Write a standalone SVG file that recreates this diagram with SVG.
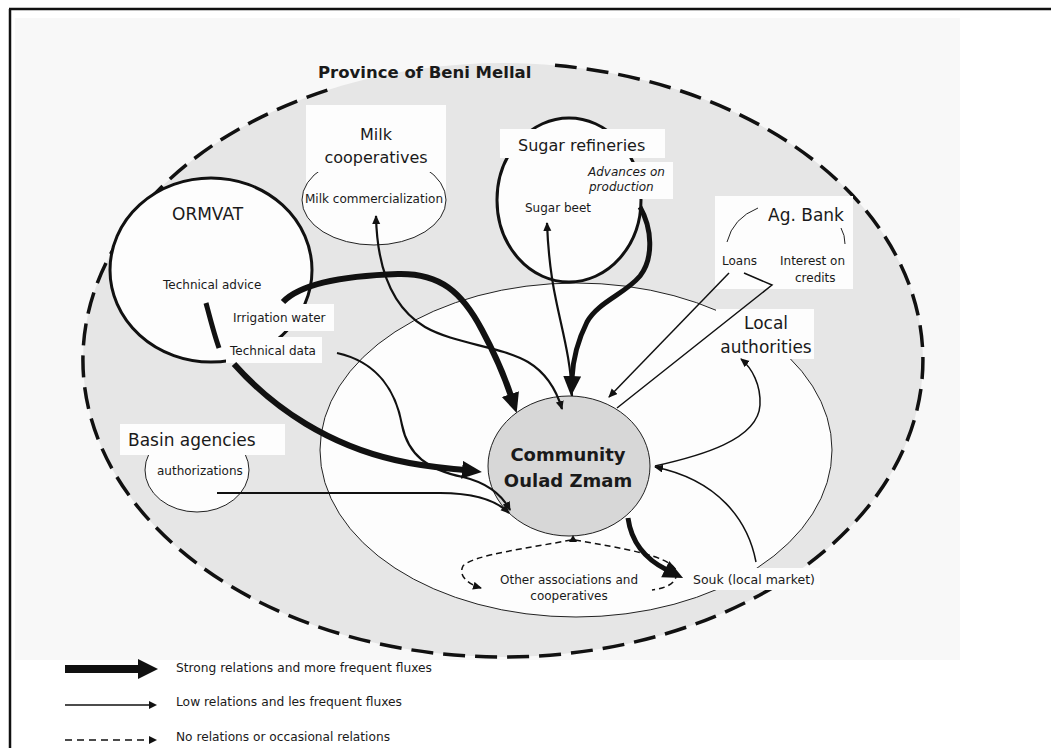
<svg xmlns="http://www.w3.org/2000/svg" width="1051" height="748" viewBox="0 0 1051 748">
  <style>
    text { font-family: "DejaVu Sans", "Liberation Sans", sans-serif; fill: #1a1a1a; }
    .big { font-size: 17px; }
    .mid { font-size: 16px; }
    .small { font-size: 12px; }
    .thin { fill: none; stroke: #111; stroke-width: 1.5; }
    .thin2 { fill: none; stroke: #111; stroke-width: 2.2; }
    .thick { fill: none; stroke: #111; stroke-width: 6; }
    .thick5 { fill: none; stroke: #111; stroke-width: 5; }
    .dash { fill: none; stroke: #111; stroke-width: 1.5; stroke-dasharray: 6 4; }
    .box { fill: #fdfdfd; stroke: none; }
    .ring { fill: #fdfdfd; stroke: #111; stroke-width: 3; }
    .oval { fill: #fdfdfd; stroke: #222; stroke-width: 1; }
  </style>
  <defs>
    <marker id="ah-big" markerUnits="userSpaceOnUse" markerWidth="22" markerHeight="20" refX="2" refY="9" orient="auto">
      <path d="M0,0 L20,9 L0,18 Z" fill="#111"/>
    </marker>
    <marker id="ah-small" markerUnits="userSpaceOnUse" markerWidth="10" markerHeight="9" refX="8" refY="4" orient="auto-start-reverse">
      <path d="M0,0 L9,4 L0,8 Z" fill="#111"/>
    </marker>
  </defs>

  <!-- page -->
  <rect x="0" y="0" width="1051" height="748" fill="#ffffff"/>
  <rect x="15" y="18" width="945" height="642" fill="#f8f8f8"/>
  <path d="M9,9 H1051 M10,9 V748" fill="none" stroke="#111" stroke-width="2.5"/>

  <!-- province boundary -->
  <g id="province">
    <ellipse cx="503" cy="360" rx="420" ry="297" fill="#e6e6e6"/>
    <path d="M555,65.3 A420,297 0 1 1 333,88.4" fill="none" stroke="#111" stroke-width="3.5" stroke-dasharray="22 10"/>
    <text x="318" y="78" style="font-size:16.5px;font-weight:bold">Province of Beni Mellal</text>
  </g>

  <!-- local area around the community -->
  <ellipse id="local-area" cx="576" cy="450" rx="256" ry="167" fill="#fdfdfd" stroke="#222" stroke-width="1"/>

  <!-- nodes -->
  <g id="ormvat">
    <ellipse class="ring" cx="211" cy="270" rx="101" ry="92"/>
    <rect class="box" x="228" y="304" width="106" height="27"/>
    <rect class="box" x="226" y="337" width="96" height="26"/>
    <text class="big" x="172" y="220">ORMVAT</text>
    <text class="small" x="163" y="289">Technical advice</text>
    <text class="small" x="233" y="322">Irrigation water</text>
    <text class="small" x="230" y="355">Technical data</text>
  </g>

  <g id="milk-cooperatives">
    <rect class="box" x="306" y="105" width="140" height="100"/>
    <ellipse class="oval" cx="374" cy="200" rx="72" ry="45"/>
    <rect class="box" x="308" y="115" width="136" height="57"/>
    <text class="mid" x="376" y="140" text-anchor="middle">Milk</text>
    <text class="mid" x="376" y="163" text-anchor="middle">cooperatives</text>
    <text class="small" x="305" y="203" textLength="138" lengthAdjust="spacingAndGlyphs">Milk commercialization</text>
  </g>

  <g id="sugar-refineries">
    <ellipse class="ring" cx="569" cy="200" rx="72" ry="82"/>
    <rect class="box" x="500" y="129" width="165" height="29"/>
    <rect class="box" x="585" y="162" width="88" height="37"/>
    <text class="mid" x="518" y="151">Sugar refineries</text>
    <text class="small" x="588" y="176" font-style="italic">Advances on</text>
    <text class="small" x="589" y="191" font-style="italic">production</text>
    <text class="small" x="525" y="212">Sugar beet</text>
  </g>

  <g id="ag-bank">
    <rect class="box" x="715" y="196" width="138" height="93"/>
    <path d="M758,208 Q733,218 727,242 M841,228 Q845,235 845,244" fill="none" stroke="#222" stroke-width="1"/>
    <text class="big" x="768" y="221">Ag. Bank</text>
    <text class="small" x="722" y="265">Loans</text>
    <text class="small" x="780" y="265">Interest on</text>
    <text class="small" x="795" y="282">credits</text>
  </g>

  <g id="local-authorities">
    <rect class="box" x="716" y="309" width="98" height="50"/>
    <text class="big" x="766" y="329" text-anchor="middle">Local</text>
    <text class="big" x="766" y="353" text-anchor="middle">authorities</text>
  </g>

  <g id="basin-agencies">
    <ellipse class="oval" cx="197" cy="470" rx="52" ry="42"/>
    <rect class="box" x="120" y="424" width="165" height="31"/>
    <text class="big" x="128" y="446">Basin agencies</text>
    <text class="small" x="157" y="475">authorizations</text>
  </g>

  <g id="community">
    <ellipse cx="569" cy="466" rx="81" ry="70" fill="#d7d7d7" stroke="#222" stroke-width="1"/>
    <text x="568" y="461" text-anchor="middle" style="font-size:18px;font-weight:bold">Community</text>
    <text x="568" y="487" text-anchor="middle" style="font-size:18px;font-weight:bold">Oulad Zmam</text>
  </g>

  <g id="other-associations">
    <text class="small" x="569" y="584" text-anchor="middle">Other associations and</text>
    <text class="small" x="569" y="600" text-anchor="middle">cooperatives</text>
  </g>

  <g id="souk">
    <rect class="box" x="690" y="568" width="130" height="22"/>
    <text class="small" x="693" y="584" style="font-size:12.5px">Souk (local market)</text>
  </g>

  <!-- connectors -->
  <g id="connectors">
    <!-- strong fluxes -->
    <path class="thick" d="M283,302 C300,284 340,276 398,274 C440,273 462,292 482,330 C497,358 505,378 511,396" marker-end="url(#ah-big)"/>
    <path class="thick5" d="M206,303 C210,318 214,334 219,348"/>
    <path class="thick" d="M234,364 C275,410 330,445 395,460 C425,467 445,468 464,470" marker-end="url(#ah-big)"/>
    <path class="thick5" d="M640,207 C652,228 654,258 640,276 C625,294 598,302 587,322 C578,340 573,358 572,378" marker-end="url(#ah-big)"/>
    <path class="thick5" d="M628,518 C631,540 643,558 667,570" marker-end="url(#ah-big)"/>

    <!-- weaker fluxes -->
    <path class="thin2" d="M337,353 C378,362 396,392 402,425 C408,455 428,470 463,477 C488,483 502,495 510,510" marker-end="url(#ah-small)"/>
    <path class="thin2" d="M217,493 L440,493 C472,493 496,500 509,513" marker-end="url(#ah-small)"/>
    <path class="thin2" d="M376,216 C377,262 388,305 425,327 C455,344 500,346 528,362 C548,374 557,392 562,409" marker-start="url(#ah-small)" marker-end="url(#ah-small)"/>
    <path class="thin2" d="M572,396 C571,360 562,330 556,300 C550,272 548,250 547,223" marker-end="url(#ah-small)"/>
    <path class="thin" d="M729,273 L609,397" marker-end="url(#ah-small)"/>
    <path class="thin" d="M744,273 L772,285 L617,408"/>
    <path class="thin" d="M655,466 C700,456 758,440 760,405 C761,385 752,368 741,359" marker-end="url(#ah-small)"/>
    <path class="thin" d="M756,562 C748,520 718,480 655,467" marker-end="url(#ah-small)"/>

    <!-- occasional relations -->
    <path class="dash" d="M571,540 C530,548 472,555 463,566 C458,576 468,584 481,588" marker-end="url(#ah-small)"/>
    <path class="dash" d="M575,540 C620,548 668,555 676,570 C679,582 668,588 652,590"/>
    <polygon points="569,542 573,535 577,542" fill="#111"/>
  </g>

  <!-- legend -->
  <g id="legend">
    <line x1="65" y1="669" x2="140" y2="669" stroke="#111" stroke-width="8"/>
    <polygon points="138,659 158,669 138,679" fill="#111"/>
    <line x1="65" y1="705" x2="150" y2="705" stroke="#111" stroke-width="1.5"/>
    <polygon points="149,701 157,705 149,709" fill="#111"/>
    <line x1="65" y1="740" x2="150" y2="740" stroke="#111" stroke-width="1.5" stroke-dasharray="7 5"/>
    <polygon points="149,736 157,740 149,744" fill="#111"/>
    <text class="small" x="176" y="672" textLength="256" lengthAdjust="spacingAndGlyphs">Strong relations and more frequent fluxes</text>
    <text class="small" x="176" y="706" textLength="226" lengthAdjust="spacingAndGlyphs">Low relations and les frequent fluxes</text>
    <text class="small" x="176" y="741" textLength="214" lengthAdjust="spacingAndGlyphs">No relations or occasional relations</text>
  </g>
</svg>
